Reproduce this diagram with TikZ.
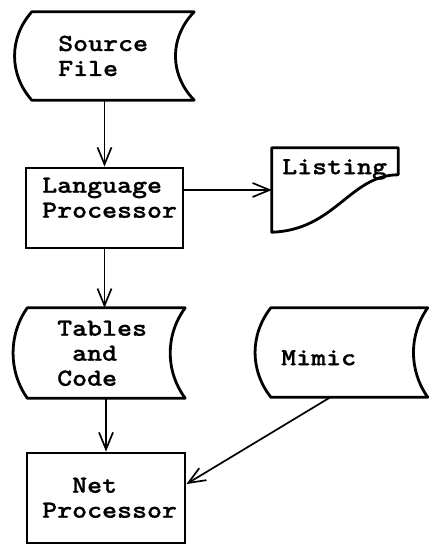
\documentclass[tikz,border=0pt]{standalone}
\usepackage{fontspec}
\newfontfamily\twfont[FakeStretch=1.16,FakeBold=0.9]{lmmonolt10-bold.otf}
\usetikzlibrary{arrows.meta,calc}

\begin{document}
\begin{tikzpicture}[x=1pt,y=-1pt,
  outline/.style={draw=black,line width=2.8pt,line join=round},
  procbox/.style={rectangle,draw=black,line width=2.8pt,inner sep=0pt},
  holder/.style={rectangle,inner sep=0pt},
  typed/.style={font=\fontsize{24.6}{25}\twfont,align=left,
                anchor=north west,inner sep=0pt,execute at begin node=\strut},
  flow/.style={line width=1.7pt,
               -{Straight Barb[length=17pt,width=14pt,line width=1.7pt]}}
]
\useasboundingbox (0,0) rectangle (431,545);

% ---- Source File (stored data) ------------------------------
\node[holder,minimum width=162pt,minimum height=88pt] (src) at (113,56) {};
\draw[outline] (src.north west) -- (src.north east)
  .. controls ($(src.north east)+(-25,26)$) and ($(src.south east)+(-25,-26)$) .. (src.south east)
  -- (src.south west)
  .. controls ($(src.south west)+(-23,-26)$) and ($(src.north west)+(-23,26)$) .. (src.north west) -- cycle;
\node[typed] (srct) at (58,35.5) {Source\\File};

% ---- Language Processor -------------------------------------
\node[procbox,minimum width=157pt,minimum height=80pt] (lp) at (104.5,208) {};
\node[typed] (lpt) at (42,177.5) {Language\\Processor};

% ---- Listing (document) -------------------------------------
\node[holder,minimum width=126pt,minimum height=84pt] (lst) at (335,190) {};
\draw[outline] (lst.south west) -- (lst.north west) -- (lst.north east) -- ($(lst.north east)+(0,27)$)
  .. controls ($(lst.north east)+(-48,27)$) and ($(lst.south west)+(63,-2)$) .. (lst.south west) -- cycle;
\node[typed] (lstt) at (282,156.5) {Listing};

% ---- Tables and Code (stored data) --------------------------
\node[holder,minimum width=157.5pt,minimum height=90pt] (tab) at (106.25,353) {};
\draw[outline] (tab.north west) -- (tab.north east)
  .. controls ($(tab.north east)+(-20,27)$) and ($(tab.south east)+(-20,-27)$) .. (tab.south east)
  -- (tab.south west)
  .. controls ($(tab.south west)+(-19,-27)$) and ($(tab.north west)+(-19,27)$) .. (tab.north west) -- cycle;
\node[typed] (tabt) at (57,320.5) {Tables\\\hphantom{T}and\\Code};

% ---- Mimic (stored data) ------------------------------------
\node[holder,minimum width=156.5pt,minimum height=89pt] (mim) at (349.25,352.5) {};
\draw[outline] (mim.north west) -- (mim.north east)
  .. controls ($(mim.north east)+(-19,27)$) and ($(mim.south east)+(-19,-27)$) .. (mim.south east)
  -- (mim.south west)
  .. controls ($(mim.south west)+(-21,-27)$) and ($(mim.north west)+(-21,27)$) .. (mim.north west) -- cycle;
\node[typed] (mimt) at (281,347.5) {Mimic};

% ---- Net Processor ------------------------------------------
\node[procbox,minimum width=158pt,minimum height=90pt] (np) at (106,498) {};
\node[typed] (npt) at (42,477.5) {\hphantom{Ne}Net\\Processor};

% ---- Flow lines ---------------------------------------------
\draw[flow] (lp.north |- src.south) -- (lp.north);
\draw[flow] (lp.south) -- (lp.south |- tab.north);
\draw[flow] (np.north |- tab.south) -- (np.north);
\draw[flow] (lst.west -| lp.east) -- (lst.west);
\draw[flow] ($(mim.south west)!0.38!(mim.south east)$) -- ($(np.north east)!0.35!(np.south east)$);

\end{tikzpicture}
\end{document}
